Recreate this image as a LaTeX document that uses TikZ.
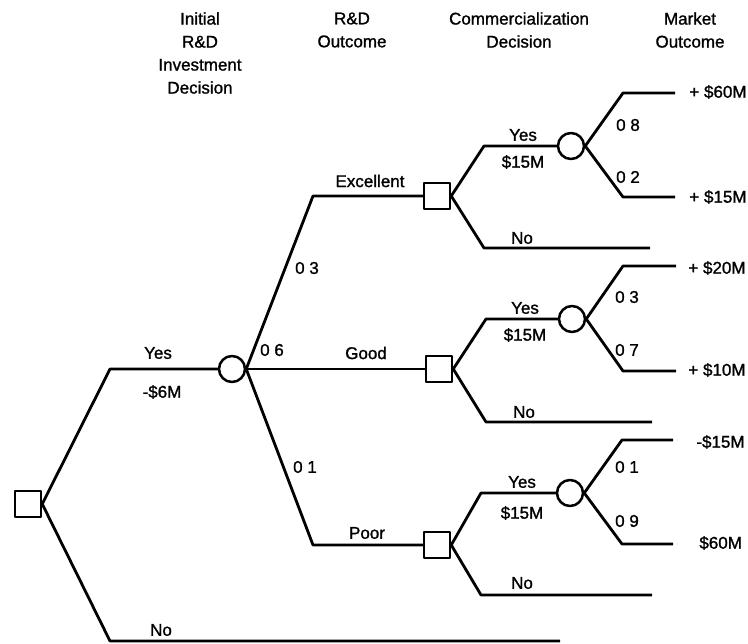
\documentclass[tikz,border=0pt]{standalone}
\usepackage{fontspec}
\setmainfont{Liberation Sans}
\newfontfamily\treefont{Liberation Sans}[FakeBold=1.2]
\begin{document}
\begin{tikzpicture}[x=1pt,y=-1pt,
  line width=2.8pt, line join=round,
  decision/.style={draw, rectangle, minimum size=26pt, inner sep=0pt, line width=2.5pt},
  chance/.style={draw, circle, minimum size=26pt, inner sep=0pt, line width=2.5pt},
  lbl/.style={font=\treefont\fontsize{17}{23}\selectfont, inner sep=0pt},
  head/.style={lbl, align=center},
  branch/.style={line width=2.8pt},
]
\useasboundingbox (0,0) rectangle (748,644);

% column headings
\node[head] (h1) at (200,53) {Initial\\R\&D\\Investment\\Decision};
\node[head] (h2) at (352,30) {R\&D\\Outcome};
\node[head] (h3) at (519,30) {Commercialization\\Decision};
\node[head] (h4) at (690,30) {Market\\Outcome};

% decision and chance nodes
\node[decision] (root) at (28,504) {};
\node[chance]   (rd)   at (232,369) {};
\node[decision] (d1)   at (437,196) {};
\node[decision] (d2)   at (439,369) {};
\node[decision] (d3)   at (437,545) {};
\node[chance]   (m1)   at (571,146) {};
\node[chance]   (m2)   at (572,319) {};
\node[chance]   (m3)   at (570,493) {};

% bend points and free ends
\coordinate (ry) at (110,369);
\coordinate (rn) at (110,641);
\coordinate (rnE) at (560,641);
\coordinate (ex) at (313,196);
\coordinate (po) at (313,545);
\coordinate (y1) at (484,146);  \coordinate (n1) at (484,248); \coordinate (n1E) at (650,248);
\coordinate (y2) at (486,319);  \coordinate (n2) at (486,422); \coordinate (n2E) at (652,422);
\coordinate (y3) at (481,493);  \coordinate (n3) at (481,595); \coordinate (n3E) at (652,595);
\coordinate (a1) at (623,93);   \coordinate (a1E) at (675,93);
\coordinate (b1) at (623,197);  \coordinate (b1E) at (675,197);
\coordinate (a2) at (623,266);  \coordinate (a2E) at (676,266);
\coordinate (b2) at (623,371);  \coordinate (b2E) at (676,371);
\coordinate (a3) at (622,440);  \coordinate (a3E) at (673,440);
\coordinate (b3) at (622,544);  \coordinate (b3E) at (673,544);

% initial investment decision
\draw[branch] (root.east) -- (ry) -- (rd.west);
\draw[branch] (root.east) -- (rn) -- (rnE);

% R&D outcome
\draw[branch] (rd.east) -- (ex) -- (d1.west);
\draw[branch] (rd.east) -- (d2.west);
\draw[branch] (rd.east) -- (po) -- (d3.west);

% commercialization decisions
\draw[branch] (d1.east) -- (y1) -- (m1.west);
\draw[branch] (d1.east) -- (n1) -- (n1E);
\draw[branch] (d2.east) -- (y2) -- (m2.west);
\draw[branch] (d2.east) -- (n2) -- (n2E);
\draw[branch] (d3.east) -- (y3) -- (m3.west);
\draw[branch] (d3.east) -- (n3) -- (n3E);

% market outcomes
\draw[branch] (m1.east) -- (a1) -- (a1E);
\draw[branch] (m1.east) -- (b1) -- (b1E);
\draw[branch] (m2.east) -- (a2) -- (a2E);
\draw[branch] (m2.east) -- (b2) -- (b2E);
\draw[branch] (m3.east) -- (a3) -- (a3E);
\draw[branch] (m3.east) -- (b3) -- (b3E);

% branch labels
\node[lbl] (lyes)  at (158,353) {Yes};
\node[lbl] (lcost) at (162,392) {-\$6M};
\node[lbl] (lno)   at (161,630) {No};

\node[lbl] (lex)   at (370,181) {Excellent};
\node[lbl] (lgood) at (366,353) {Good};
\node[lbl] (lpoor) at (367,533) {Poor};
\node[lbl] (p03)   at (307,268) {0 3};
\node[lbl] (p06)   at (272,350) {0 6};
\node[lbl] (p01)   at (305,467) {0 1};

\node[lbl] (cy1) at (523,135) {Yes};
\node[lbl] (cc1) at (523,162) {\$15M};
\node[lbl] (cn1) at (522,238) {No};
\node[lbl] (cy2) at (525,308) {Yes};
\node[lbl] (cc2) at (525,335) {\$15M};
\node[lbl] (cn2) at (524,412) {No};
\node[lbl] (cy3) at (522,482) {Yes};
\node[lbl] (cc3) at (522,513) {\$15M};
\node[lbl] (cn3) at (522,583) {No};

\node[lbl] (q08) at (628,125) {0 8};
\node[lbl] (q02) at (628,177) {0 2};
\node[lbl] (q03) at (627,297) {0 3};
\node[lbl] (q07) at (627,350) {0 7};
\node[lbl] (q01) at (627,467) {0 1};
\node[lbl] (q09) at (627,521) {0 9};

% payoffs
\node[lbl, anchor=west] (v1) at (688,92)  {+ \$60M};
\node[lbl, anchor=west] (v2) at (688,197) {+ \$15M};
\node[lbl, anchor=west] (v3) at (687,268) {+ \$20M};
\node[lbl, anchor=west] (v4) at (687,370) {+ \$10M};
\node[lbl, anchor=west] (v5) at (695,442) {-\$15M};
\node[lbl, anchor=west] (v6) at (698,543) {\$60M};
\end{tikzpicture}
\end{document}
